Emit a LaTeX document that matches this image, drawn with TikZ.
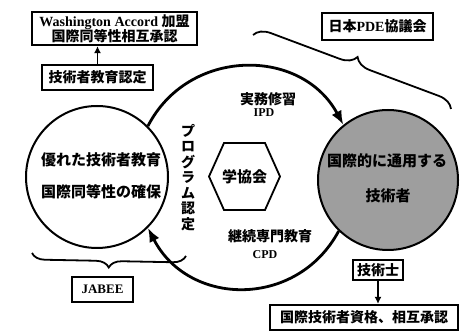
\documentclass[tikz,border=0pt]{standalone}
\usepackage{fontspec}
\setmainfont{Liberation Serif}
\newfontfamily\jp{Noto Sans CJK JP}
\usetikzlibrary{arrows.meta,decorations.pathreplacing,calc}
\begin{document}
\begin{tikzpicture}[x=1pt,y=1pt,
  box/.style={draw,line width=2.2pt,inner sep=0pt,align=center,fill=white},
  jtext/.style={font=\jp\bfseries\fontsize{14}{15.5}\selectfont},
  ctext/.style={font=\jp\bfseries\fontsize{15}{17}\selectfont},
  ltext/.style={font=\bfseries\fontsize{12}{14}\selectfont},
  smallarr/.style={line width=1.8pt,-{Latex[length=7pt,width=7pt]}},
  bigarc/.style={line width=2.8pt,-{Latex[length=14pt,width=11pt]}},
  bracestyle/.style={line width=1.8pt,decorate},
  circ/.style={draw,circle,line width=2pt,minimum size=142pt,inner sep=0pt}
]
\useasboundingbox (0,0) rectangle (460,334);

% circles
\node[circ,fill=white] (L) at (97,157) {};
\node[circ,fill=black!38,minimum size=140pt] (R) at (388,154) {};

\node[ctext] (l1) at (101,174) {優れた技術者教育};
\node[ctext] (l2) at (101,142) {国際同等性の確保};
\node[ctext] (r1) at (387,173) {国際的に通用する};
\node[ctext] (r2) at (388,138) {技術者};

% big arcs
\draw[bigarc] (L.45.6) to[out=62.8,in=118.3,distance=88.6pt] (R.129.4);
\draw[bigarc] (R.226.2) to[out=-118.3,in=-62.8,distance=88.6pt] (L.315.6);

% hexagon
\node[ctext] (hx) at (244.5,157.5) {学協会};
\draw[line width=1.8pt] ($(hx.center)+(-35.5,0)$) -- ++(15,33.5) -- ++(41,0) -- ++(15,-33.5) -- ++(-15,-33.5) -- ++(-41,0) -- cycle;

% labels in the big circle
\node[jtext,align=center,inner sep=0pt] (pn) at (188,156.5) {プ\\ロ\\グ\\ラ\\ム\\認\\定};
\node[jtext] (ipd1) at (268,235) {実務修習};
\node[ltext] (ipd2) at (264,221) {IPD};
\node[jtext] (cpd1) at (270,98) {継続専門教育};
\node[ltext] (cpd2) at (265,79) {CPD};

% top-left boxes
\node[box,minimum width=165pt,minimum height=33pt] (wa) at (114.5,305.5)
  {{\bfseries\fontsize{14}{15}\selectfont Washington Accord {\jp 加盟}}\\[-1pt]
   {\jp\bfseries\fontsize{14}{15}\selectfont 国際同等性相互承認}};
\node[box,jtext,minimum width=111pt,minimum height=25pt] (te) at (97.5,256.5) {技術者教育認定};
\draw[smallarr] (te.north) -- (te.north |- wa.south);

% top-right box and brace
\node[box,minimum width=111pt,minimum height=27pt] (pde) at (377.5,307.5)
  {{\jp\bfseries\fontsize{14}{15}\selectfont 日本}{\bfseries\fontsize{14}{15}\selectfont PDE}{\jp\bfseries\fontsize{14}{15}\selectfont 協議会}};
\coordinate (b1s) at (253,299);
\coordinate (b1e) at (451,225);
\draw[bracestyle,decoration={brace,amplitude=16pt}] (b1s) -- (b1e);

% bottom-left brace and JABEE
\coordinate (b2s) at (32,81);
\coordinate (b2e) at (186,78);
\draw[bracestyle,decoration={brace,mirror,amplitude=13pt}] (b2s) -- (b2e);
\node[box,minimum width=61pt,minimum height=25pt,font=\bfseries\fontsize{13}{15}\selectfont] (jabee) at (102.5,44.5) {JABEE};

% bottom-right boxes
\node[box,jtext,minimum width=50pt,minimum height=20pt] (pe) at (378,64) {技術士};
\node[box,jtext,minimum width=188pt,minimum height=25pt] (intl) at (364,16.5) {国際技術者資格、相互承認};
\draw[smallarr] (pe.south) -- (pe.south |- intl.north);
\end{tikzpicture}
\end{document}
